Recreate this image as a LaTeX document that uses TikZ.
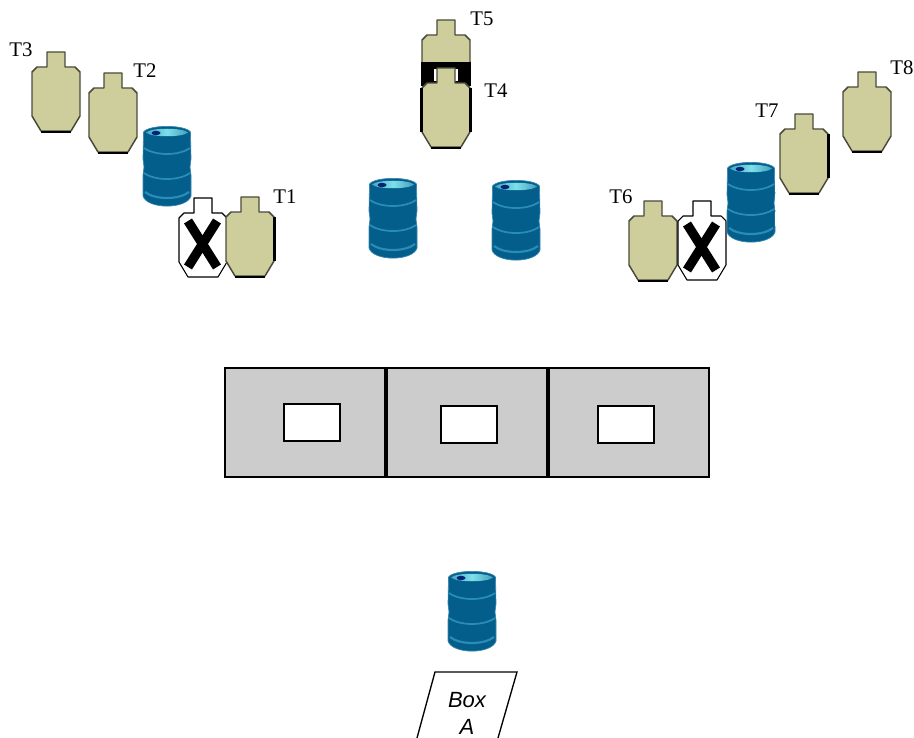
\documentclass[tikz,border=0pt]{standalone}
\usepackage{fontspec}
\setmainfont{Liberation Serif}
\newfontfamily\boxfont{Liberation Sans}
\definecolor{khaki}{HTML}{CECE9C}
\definecolor{edgegray}{HTML}{4A4A3C}
\definecolor{drumdark}{HTML}{045E8C}
\definecolor{drumring}{HTML}{2A8DB8}
\definecolor{drumside}{HTML}{3A86B0}
\definecolor{drumtop}{HTML}{7FE0EA}
\definecolor{panelgray}{HTML}{CCCCCC}
\newcommand{\silhouette}{(15,0) -- (33,0) -- (33,15) -- (43,15) -- (48,20) -- (48,64) -- (39,79) -- (9,79) -- (0,64) -- (0,20) -- (5,15) -- (15,15) -- cycle}
\tikzset{
  x=0.75pt,y=-0.75pt,
  lbl/.style={font=\fontsize{15.6}{15.6}\selectfont,inner sep=0pt},
  targetfill/.style={fill=khaki,draw=edgegray,line width=1.1pt,line join=round},
  heavy/.style={black,line width=1.8pt},
  panel/.style={fill=panelgray,draw=black,line width=0.8pt},
  hole/.style={fill=white,draw=black,line width=0.8pt},
  pics/target/.style={code={
    \path[targetfill] \silhouette;
    \draw[heavy] (9,80) -- (39,80);
  }},
  pics/targetr/.style={code={
    \path[targetfill] \silhouette;
    \draw[heavy] (9,80) -- (39,80);
    \draw[heavy] (48.6,20) -- (48.6,64);
  }},
  pics/crossed/.style={code={
    \path[fill=white,draw=black,line width=0.8pt,line join=round] \silhouette;
    \draw[black,line width=7pt] (9,23) -- (38,69);
    \draw[black,line width=7pt] (38,23) -- (9,69);
  }},
  pics/drum/.style={code={
    \path[fill=drumdark,draw=drumside,line width=0.5pt]
      (0.5,6) .. controls (6,-1.5) and (42,-1.5) .. (47.5,6)
      -- (48,33) -- (47,41) -- (48,49) -- (48,70)
      .. controls (44,83.5) and (4,83.5) .. (0,70)
      -- (0,49) -- (1,41) -- (0,33) -- cycle;
    \path[left color=drumtop!55!drumdark,right color=drumtop!50!drumdark,middle color=drumtop]
      (3,6.5) .. controls (8,1.5) and (40,1.5) .. (45,6.5) .. controls (40,11.5) and (8,11.5) .. (3,6.5) -- cycle;
    \path[fill=black!60!blue!60!drumdark] (13,7) ellipse (4.5 and 2.2);
    \draw[drumring,line width=1.3pt] (1,22) .. controls (12,30) and (36,30) .. (47,22);
    \draw[drumring,line width=1.3pt] (1,47) .. controls (12,55) and (36,55) .. (47,47);
    \draw[drumring,line width=1.6pt] (2,66) .. controls (12,74) and (36,74) .. (46,66);
  }}
}
\begin{document}
\begin{tikzpicture}
\useasboundingbox (0,0) rectangle (914,738);
% left group
\pic at (32,52) {target};
\pic at (89,73) {target};
\pic at (143,126) {drum};
\pic at (179,198) {crossed};
\pic at (226,197) {targetr};
% centre group
\pic at (422,20) {target};
\fill[black] (421,62) rectangle (471,86);
\fill[white] (434,69) rectangle (458,81);
\pic at (422,68) {targetr};
\draw[heavy] (421.6,88) -- (421.6,132);
\pic at (369,178) {drum};
\pic at (492,180) {drum};
% right group
\pic at (629,201) {target};
\pic at (678,201) {crossed};
\pic at (727,162) {drum};
\draw[white,line width=0.7pt,dash pattern=on 12pt off 1.5pt] (775.5,176) -- (775.5,226);
\pic at (780,114) {targetr};
\pic at (843,72) {target};
% panels
\path[panel] (225,368) rectangle (385,477);
\path[panel] (387,368) rectangle (547,477);
\path[panel] (549,368) rectangle (709,477);
\path[hole] (284,404) rectangle (340,441);
\path[hole] (441,406) rectangle (497,443);
\path[hole] (598,406) rectangle (654,443);
% barrel and box
\pic at (448,571) {drum};
\draw[black,line width=1pt] (417,738) -- (435,672) -- (517,672) -- (498,738);
\node[font=\boxfont\itshape\fontsize{16.5}{20}\selectfont,align=center,inner sep=0pt] (boxa) at (467,713.5) {Box\\A};
% labels
\node[lbl] (t1) at (285,197) {T1};
\node[lbl] (t2) at (145,71) {T2};
\node[lbl] (t3) at (21,50) {T3};
\node[lbl] (t4) at (496,91) {T4};
\node[lbl] (t5) at (482,19) {T5};
\node[lbl] (t6) at (621,197) {T6};
\node[lbl] (t7) at (767,111) {T7};
\node[lbl] (t8) at (902,68) {T8};
\end{tikzpicture}
\end{document}
